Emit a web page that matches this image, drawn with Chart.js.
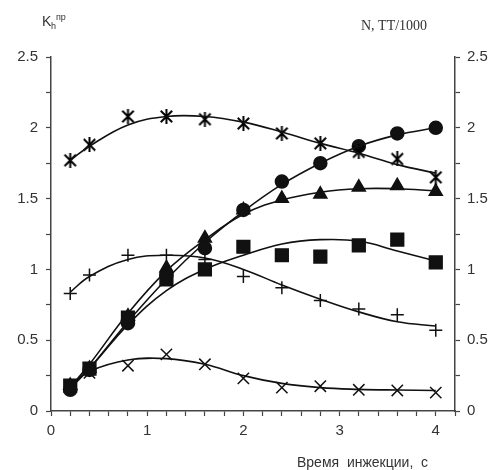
<!DOCTYPE html>
<html>
<head>
<meta charset="utf-8">
<script src="https://cdn.jsdelivr.net/npm/chart.js@4.4.1/dist/chart.umd.min.js"></script>
<style>
    html, body { margin: 0; padding: 0; background: #fff; }
    #wrap { width: 500px; height: 470px; position: relative; }
</style>
</head>
<body>
<div id="wrap"><canvas id="kChart"></canvas></div>
<script>
// injection time, s
const timeS = [0.2, 0.4, 0.8, 1.2, 1.6, 2.0, 2.4, 2.8, 3.2, 3.6, 4.0];

const asteriskVals = [1.77, 1.88, 2.08, 2.08, 2.06, 2.03, 1.96, 1.89, 1.83, 1.78, 1.65];
const circleVals   = [0.15, 0.29, 0.62, 0.96, 1.15, 1.42, 1.62, 1.75, 1.87, 1.96, 2.00];
const triangleVals = [0.18, 0.30, 0.67, 1.01, 1.22, 1.42, 1.50, 1.53, 1.58, 1.59, 1.55];
const squareVals   = [0.18, 0.30, 0.66, 0.93, 1.00, 1.16, 1.10, 1.09, 1.17, 1.21, 1.05];
const plusVals     = [0.83, 0.96, 1.10, 1.10, 1.07, 0.95, 0.87, 0.78, 0.72, 0.68, 0.57];
const crossVals    = [0.18, 0.27, 0.32, 0.40, 0.33, 0.23, 0.165, 0.175, 0.15, 0.145, 0.13];

// trend curves
const asteriskTrend = [1.77, 1.87, 2.02, 2.08, 2.08, 2.04, 1.97, 1.89, 1.82, 1.74, 1.68];
const circleTrend   = [0.16, 0.30, 0.63, 0.93, 1.19, 1.41, 1.60, 1.75, 1.87, 1.95, 2.00];
const triangleTrend = [0.17, 0.33, 0.69, 0.99, 1.21, 1.39, 1.49, 1.545, 1.57, 1.57, 1.555];
const squareTrend   = [0.17, 0.30, 0.61, 0.85, 1.00, 1.10, 1.18, 1.21, 1.20, 1.13, 1.06];
const plusTrend     = [0.84, 0.95, 1.07, 1.10, 1.08, 1.00, 0.89, 0.79, 0.70, 0.63, 0.60];
const crossTrend    = [0.18, 0.28, 0.36, 0.37, 0.33, 0.25, 0.195, 0.165, 0.153, 0.148, 0.145];

const axisColor = '#444';
const inkColor = '#111';

function toXY(ys) {
    return timeS.map((x, i) => ({ x: x, y: ys[i] }));
}

// asterisk marker: X with a vertical bar
function makeAsterisk() {
    const c = document.createElement('canvas');
    c.width = 15; c.height = 15;
    const g = c.getContext('2d');
    g.strokeStyle = '#000';
    g.lineWidth = 2;
    g.lineCap = 'square';
    g.beginPath();
    g.moveTo(2.5, 2.5); g.lineTo(12.5, 12.5);
    g.moveTo(12.5, 2.5); g.lineTo(2.5, 12.5);
    g.moveTo(7.5, 1); g.lineTo(7.5, 14);
    g.stroke();
    return c;
}

function trendSet(ys) {
    return {
        type: 'line',
        data: toXY(ys),
        borderColor: inkColor,
        borderWidth: 1.6,
        pointRadius: 0,
        tension: 0.4,
        fill: false
    };
}

function markerSet(ys, style, radius) {
    return {
        type: 'scatter',
        data: toXY(ys),
        pointStyle: style,
        pointRadius: radius,
        backgroundColor: inkColor,
        borderColor: inkColor,
        borderWidth: 1.5,
        showLine: false
    };
}

const textPlugin = {
    id: 'texts',
    afterDraw(chart) {
        const ctx = chart.ctx;
        ctx.save();
        ctx.fillStyle = '#333';
        ctx.textBaseline = 'alphabetic';
        ctx.textAlign = 'left';
        // K_h^пр
        ctx.font = '14px "Liberation Sans", Arial, sans-serif';
        ctx.fillText('K', 42, 26);
        ctx.font = '9px "Liberation Sans", Arial, sans-serif';
        ctx.fillText('h', 51, 29);
        ctx.fillText('пр', 56, 20);
        // right axis caption
        ctx.font = '14px "Liberation Serif", "Times New Roman", serif';
        ctx.fillText('N, TT/1000', 361, 30);
        // x axis caption
        ctx.font = '14px "Liberation Sans", Arial, sans-serif';
        ctx.fillText('Время  инжекции,  с', 297, 467);
        ctx.restore();
    }
};

function yAxis(position, width, pad) {
    return {
        type: 'linear',
        position: position,
        min: 0,
        max: 2.5,
        border: { display: true, color: axisColor, width: 1.5 },
        grid: { drawOnChartArea: false, tickLength: 5, tickColor: axisColor, tickWidth: 1.2 },
        ticks: {
            stepSize: 0.25,
            color: '#333',
            padding: pad,
            font: { family: '"Liberation Sans", Arial, sans-serif', size: 15 },
            callback: v => (Math.abs(v * 2 - Math.round(v * 2)) < 1e-6 ? String(v) : '')
        },
        afterFit: s => { s.width = width; }
    };
}

new Chart(document.getElementById('kChart'), {
    data: {
        datasets: [
            trendSet(asteriskTrend),
            trendSet(circleTrend),
            trendSet(triangleTrend),
            trendSet(squareTrend),
            trendSet(plusTrend),
            trendSet(crossTrend),
            markerSet(asteriskVals, makeAsterisk(), 7),
            markerSet(circleVals, 'circle', 6.5),
            markerSet(triangleVals, 'triangle', 7.5),
            markerSet(squareVals, 'rect', 9),
            markerSet(plusVals, 'cross', 6.5),
            markerSet(crossVals, 'crossRot', 8)
        ]
    },
    options: {
        responsive: true,
        maintainAspectRatio: false,
        animation: false,
        layout: { padding: { top: 57, left: 0, right: 0, bottom: 0 } },
        plugins: {
            legend: { display: false },
            tooltip: { enabled: false }
        },
        scales: {
            x: {
                type: 'linear',
                min: 0,
                max: 4.2,
                border: { display: true, color: axisColor, width: 1.5 },
                grid: { drawOnChartArea: false, tickLength: 5, tickColor: axisColor, tickWidth: 1.2 },
                ticks: {
                    stepSize: 0.2,
                    color: '#333',
                    padding: 6,
                    maxRotation: 0,
                    autoSkip: false,
                    font: { family: '"Liberation Sans", Arial, sans-serif', size: 15 },
                    callback: v => (Math.abs(v - Math.round(v)) < 1e-6 ? String(Math.round(v)) : '')
                },
                afterFit: s => { s.height = 59; }
            },
            y: yAxis('left', 51, 8),
            y2: yAxis('right', 45, 7)
        }
    },
    plugins: [textPlugin]
});
</script>
</body>
</html>
